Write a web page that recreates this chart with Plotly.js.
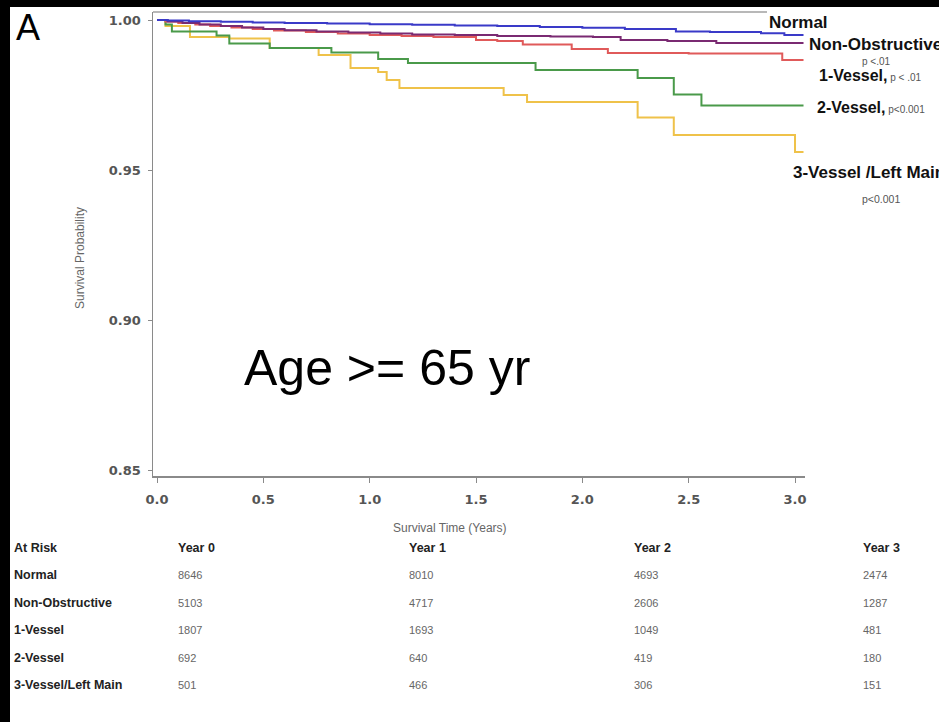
<!DOCTYPE html>
<html>
<head>
<meta charset="utf-8">
<script src="https://cdn.plot.ly/plotly-3.0.1.min.js"></script>
<style>
  html, body { margin: 0; padding: 0; background: #000; width: 939px; height: 722px; overflow: hidden; }
  #plot { position: absolute; left: 10px; top: 7px; width: 929px; height: 715px; background: #fff; }
</style>
</head>
<body>
<div id="plot"></div>
<script>
// ---------------- data ----------------
const groups = ['Normal', 'Non-Obstructive', '1-Vessel', '2-Vessel', '3-Vessel/Left Main'];
const yearLabels = ['Year 0', 'Year 1', 'Year 2', 'Year 3'];

const normalT = [0, 0.05, 0.15, 0.3, 0.45, 0.6, 0.8, 1.0, 1.2, 1.4, 1.6, 1.8, 2.0, 2.2, 2.44, 2.6, 2.84, 2.95, 3.04];
const normalS = [1, 0.9998, 0.9996, 0.9994, 0.9992, 0.999, 0.9988, 0.9986, 0.9984, 0.9982, 0.998, 0.9977, 0.9974, 0.9970, 0.9962, 0.9960, 0.9956, 0.9950, 0.9950];

const nonObsT = [0, 0.05, 0.12, 0.2, 0.3, 0.4, 0.5, 0.6, 0.75, 0.9, 1.05, 1.2, 1.4, 1.6, 1.85, 2.05, 2.18, 2.4, 2.63, 3.04];
const nonObsS = [1, 0.9995, 0.999, 0.9985, 0.998, 0.9975, 0.997, 0.9966, 0.9962, 0.9958, 0.9955, 0.9952, 0.995, 0.9947, 0.9945, 0.9943, 0.9933, 0.993, 0.9923, 0.9923];

const v1T = [0, 0.04, 0.1, 0.18, 0.25, 0.35, 0.45, 0.55, 0.7, 0.85, 1.0, 1.15, 1.3, 1.5, 1.6, 1.72, 1.95, 2.12, 2.5, 2.94, 3.04];
const v1S = [1, 0.9995, 0.999, 0.9985, 0.998, 0.9975, 0.997, 0.9965, 0.996, 0.9955, 0.995, 0.9947, 0.9943, 0.9933, 0.993, 0.9918, 0.9903, 0.989, 0.9888, 0.9867, 0.9867];

const v2T = [0, 0.04, 0.07, 0.28, 0.34, 0.53, 0.82, 1.04, 1.18, 1.78, 2.26, 2.43, 2.56, 3.04];
const v2S = [1, 0.9985, 0.9962, 0.9948, 0.9922, 0.9907, 0.9892, 0.9870, 0.9857, 0.9833, 0.9807, 0.9752, 0.9715, 0.9715];

const v3T = [0, 0.04, 0.155, 0.34, 0.53, 0.76, 0.91, 1.04, 1.08, 1.14, 1.63, 1.74, 2.26, 2.43, 3.0, 3.04];
const v3S = [1, 0.998, 0.9943, 0.9938, 0.9907, 0.9883, 0.984, 0.9827, 0.980, 0.9773, 0.975, 0.9727, 0.9675, 0.9617, 0.956, 0.956];

const riskNormal = [8646, 8010, 4693, 2474];
const riskNonObs = [5103, 4717, 2606, 1287];
const risk1V = [1807, 1693, 1049, 481];
const risk2V = [692, 640, 419, 180];
const risk3V = [501, 466, 306, 151];
const riskRows = [riskNormal, riskNonObs, risk1V, risk2V, risk3V];

const yTicks = [0.85, 0.90, 0.95, 1.00];
const yTickText = ['0.85', '0.90', '0.95', '1.00'];
const xTicks = [0, 0.5, 1, 1.5, 2, 2.5, 3];
const xTickText = ['0.0', '0.5', '1.0', '1.5', '2.0', '2.5', '3.0'];

// ---------------- layout helpers ----------------
const W = 929, H = 715;
const M = { l: 143, r: 134, t: 5, b: 246 };
const plotW = W - M.l - M.r, plotH = H - M.t - M.b;
// convert reference-image pixel coords to paper coords
const px = X => (X - 10 - M.l) / plotW;
const py = Y => (H - M.b - (Y - 7)) / plotH;

const colors = ['#3a3ac8', '#7a2a72', '#e05a5a', '#4a9a4a', '#efc24a'];
const SANS = 'Liberation Sans, Arial, sans-serif';

function trace(t, s, name, color) {
  return { x: t, y: s, name: name, type: 'scatter', mode: 'lines',
           line: { shape: 'hv', color: color, width: 2 }, hoverinfo: 'skip' };
}
const data = [
  trace(v3T, v3S, groups[4], colors[4]),
  trace(v2T, v2S, groups[3], colors[3]),
  trace(v1T, v1S, groups[2], colors[2]),
  trace(nonObsT, nonObsS, groups[1], colors[1]),
  trace(normalT, normalS, groups[0], colors[0])
];

const ann = [];
function addText(text, X, Y, size, opts) {
  opts = opts || {};
  ann.push({ xref: 'paper', yref: 'paper', x: px(X), y: py(Y), text: text, showarrow: false,
    xanchor: opts.xanchor || 'left', yanchor: 'middle', textangle: opts.angle || 0,
    font: { family: opts.family || SANS, size: size, color: opts.color || '#000', weight: opts.weight || 'normal' } });
}

addText('A', 14, 27, 36);
addText('Age &gt;= 65 yr', 242, 368, 50);

// curve labels
const LBL = { weight: 'bold', color: '#111' };
addText('Normal', 767, 22, 17, LBL);
addText('Non-Obstructive', 807, 44, 17, LBL);
addText('p &lt;.01', 860, 62, 10, { color: '#555' });
addText('1-Vessel,<span style="font-size:10px;font-weight:normal;color:#555"> p &lt; .01</span>', 817, 75, 16, LBL);
addText('2-Vessel,<span style="font-size:10px;font-weight:normal;color:#555"> p&lt;0.001</span>', 815, 108, 16, LBL);
addText('3-Vessel /Left Main', 791, 172, 17, LBL);
addText('p&lt;0.001', 860, 199, 10.5, { color: '#555' });

// axis titles
addText('Survival Time (Years)', 450, 528, 12, { xanchor: 'center', color: '#666' });
addText('Survival Probability', 80, 258, 12, { xanchor: 'center', angle: -90, color: '#666' });

// at-risk table
const colX = [176, 407, 632, 861];
const rowY = [575, 603, 630, 658, 685];
const HDR = { weight: 'bold', color: '#222' };
addText('At Risk', 12, 548, 12.5, HDR);
yearLabels.forEach((lab, j) => addText(lab, colX[j], 548, 12.5, HDR));
groups.forEach((g, i) => {
  addText(g, 12, rowY[i], 12.5, HDR);
  riskRows[i].forEach((v, j) => addText(String(v), colX[j], rowY[i], 11, { color: '#666' }));
});

const layout = {
  width: W, height: H,
  margin: M,
  paper_bgcolor: '#fff', plot_bgcolor: '#fff',
  showlegend: false,
  xaxis: {
    range: [-0.0188, -0.0188 + plotW / 212.67],
    tickvals: xTicks, ticktext: xTickText,
    showgrid: false, zeroline: false,
    showline: true, linecolor: '#8a8a8a', linewidth: 1.5,
    ticks: 'outside', ticklen: 5, tickcolor: '#8a8a8a', tickwidth: 1,
    ticklabelstandoff: 6,
    tickfont: { family: 'DejaVu Sans, sans-serif', size: 13, color: '#555', weight: 'bold' }
  },
  yaxis: {
    range: [0.848, 0.848 + plotH / 3000],
    tickvals: yTicks, ticktext: yTickText,
    showgrid: false, zeroline: false,
    showline: true, linecolor: '#8a8a8a', linewidth: 1.5,
    ticks: 'outside', ticklen: 4, tickcolor: '#8a8a8a', tickwidth: 1,
    ticklabelstandoff: 4,
    tickfont: { family: 'DejaVu Sans, sans-serif', size: 13, color: '#555', weight: 'bold' }
  },
  shapes: [
    { type: 'line', xref: 'paper', yref: 'paper', x0: 0, x1: px(767), y0: 1, y1: 1,
      line: { color: '#a0a0a0', width: 1.5 } }
  ],
  annotations: ann
};

Plotly.newPlot('plot', data, layout, { displayModeBar: false, staticPlot: true });
</script>
</body>
</html>
